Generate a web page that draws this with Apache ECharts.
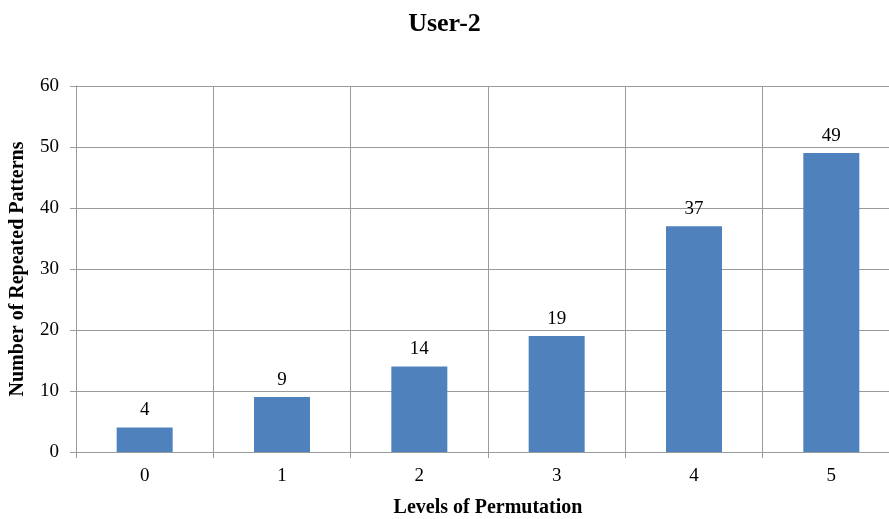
<!DOCTYPE html>
<html>
<head>
<meta charset="utf-8">
<script src="https://cdn.jsdelivr.net/npm/echarts@6/dist/echarts.min.js"></script>
<style>html,body{margin:0;padding:0;background:#fff}#c{width:889px;height:519px}</style>
</head>
<body>
<div id="c"></div>
<script>
const categories = ['0', '1', '2', '3', '4', '5'];
const values = [4, 9, 14, 19, 37, 49];
const yTicks = [0, 10, 20, 30, 40, 50, 60];

const chart = echarts.init(document.getElementById('c'), null, {renderer: 'canvas'});
const serif = '"Liberation Serif", "Times New Roman", serif';
const gridColor = '#9a9a9a';
chart.setOption({
  animation: false,
  backgroundColor: '#fff',
  title: {
    text: 'User-2',
    left: 'center',
    top: 6,
    textStyle: {fontFamily: serif, fontWeight: 'bold', fontSize: 26, color: '#000'}
  },
  grid: {left: 76, right: -11, top: 86, bottom: 67, containLabel: false, outerBoundsMode: 'none'},
  xAxis: {
    type: 'category',
    data: categories,
    name: 'Levels of Permutation',
    nameLocation: 'middle',
    nameGap: 46,
    nameTextStyle: {fontFamily: serif, fontWeight: 'bold', fontSize: 20, color: '#000'},
    axisLine: {lineStyle: {color: gridColor, width: 1}},
    axisTick: {show: true, alignWithLabel: false, length: 6, lineStyle: {color: gridColor}},
    axisLabel: {fontFamily: serif, fontSize: 19, color: '#000', margin: 15},
    splitLine: {show: true, lineStyle: {color: gridColor, width: 1}}
  },
  yAxis: {
    type: 'value',
    min: yTicks[0],
    max: yTicks[yTicks.length - 1],
    interval: 10,
    name: 'Number of Repeated Patterns',
    nameLocation: 'middle',
    nameGap: 48,
    nameTextStyle: {fontFamily: serif, fontWeight: 'bold', fontSize: 20, color: '#000'},
    axisLine: {show: true, lineStyle: {color: gridColor, width: 1}},
    axisTick: {show: true, length: 6, lineStyle: {color: gridColor}},
    axisLabel: {fontFamily: serif, fontSize: 19, color: '#000', margin: 17},
    splitLine: {show: true, lineStyle: {color: gridColor, width: 1}}
  },
  series: [{
    type: 'bar',
    data: values,
    barWidth: 56,
    itemStyle: {color: '#4F81BD'},
    label: {
      show: true,
      position: 'top',
      distance: 8,
      fontFamily: serif,
      fontSize: 19,
      color: '#000'
    }
  }]
});
</script>
</body>
</html>
